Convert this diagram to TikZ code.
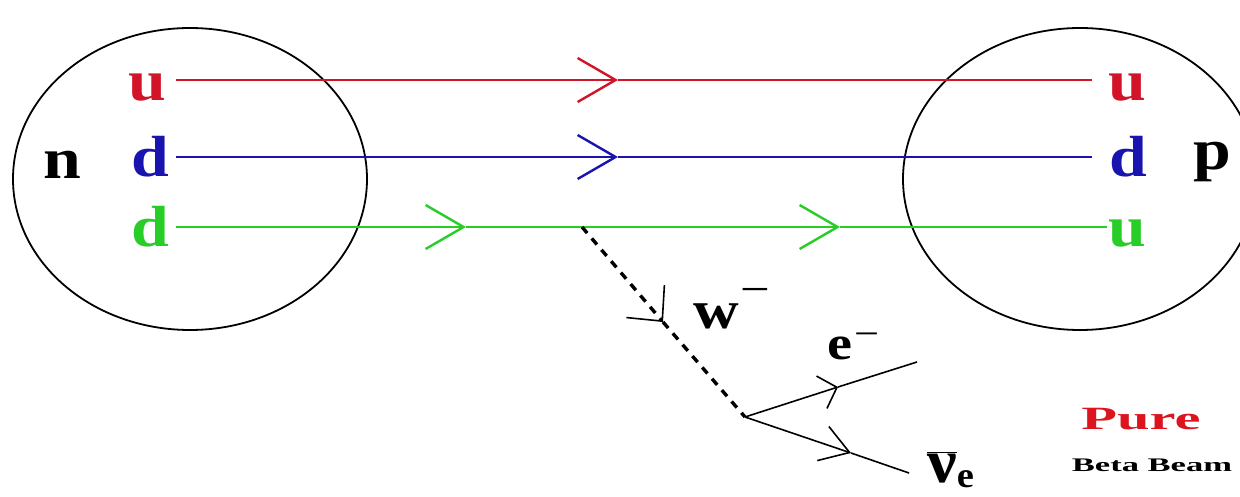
\documentclass[tikz,border=0pt]{standalone}
\usepackage{fontspec}
\setmainfont{Liberation Serif}
\usetikzlibrary{arrows.meta,shapes.geometric}
\definecolor{qred}{RGB}{210,20,40}
\definecolor{qblue}{RGB}{25,20,175}
\definecolor{qgreen}{RGB}{40,205,40}
\definecolor{pured}{RGB}{220,20,30}
\newcommand\hwide[2]{\scalebox{#1}[1]{#2}}
\newcommand\supminus[2]{\raisebox{#2}{\fontsize{#1}{#1}\selectfont\mdseries −}}
\tikzset{
  hadron/.style={draw=black, line width=1.8pt, ellipse, minimum width=354pt, minimum height=302pt, inner sep=0pt},
  quark/.style={inner sep=0pt, font=\fontsize{58}{60}\selectfont\bfseries},
  qline/.style={line width=2.2pt},
  qtip/.style={-{Straight Barb[length=38pt,width=44pt,line width=2.4pt]}},
  wline/.style={line width=3.4pt, dash pattern=on 8pt off 7pt},
  wtip/.style={-{Straight Barb[length=26pt,width=50pt,line width=1.6pt]}},
  lline/.style={line width=1.6pt},
  etip/.style={-{Straight Barb[length=16pt,width=34pt,line width=1.6pt]}},
  nutip/.style={-{Straight Barb[length=28pt,width=36pt,line width=1.6pt]}},
}
\begin{document}
\begin{tikzpicture}[x=1pt,y=-1pt]
\useasboundingbox (0,0) rectangle (1240,497);
\clip (0,0) rectangle (1240,497);

% hadrons
\node[hadron] (ncirc) at (190,179) {};
\node[hadron] (pcirc) at (1080,179) {};

% labels
\node[quark] (nlab) at (62,165) {\hwide{1.17}{n}};
\node[quark] (plab) at (1212,162) {\hwide{1.17}{p}};
\node[quark, text=qred] (uL) at (147,88) {\hwide{1.17}{u}};
\node[quark, text=qblue] (dL) at (150,157) {\hwide{1.17}{d}};
\node[quark, text=qgreen] (gL) at (150,227) {\hwide{1.17}{d}};
\node[quark, text=qred] (uR) at (1127,88) {\hwide{1.17}{u}};
\node[quark, text=qblue] (dR) at (1128,157) {\hwide{1.17}{d}};
\node[quark, text=qgreen] (gR) at (1127,234) {\hwide{1.17}{u}};

% quark line coordinates
\coordinate (r0) at (176,80);  \coordinate (rA) at (618,80);  \coordinate (r1) at (1092,80);
\coordinate (b0) at (176,157); \coordinate (bA) at (618,157); \coordinate (b1) at (1092,157);
\coordinate (g0) at (176,227); \coordinate (gA) at (466,227); \coordinate (gW) at (582,227);
\coordinate (gB) at (840,227); \coordinate (g1) at (1107,227);

\draw[qline, qred, qtip] (r0) -- (rA);
\draw[qline, qred] (rA) -- (r1);
\draw[qline, qblue, qtip] (b0) -- (bA);
\draw[qline, qblue] (bA) -- (b1);
\draw[qline, qgreen, qtip] (g0) -- (gA);
\draw[qline, qgreen] (gA) -- (gW);
\draw[qline, qgreen, qtip] (gW) -- (gB);
\draw[qline, qgreen] (gB) -- (g1);

% W boson
\coordinate (Wt) at (663,322);
\coordinate (vx) at (745,417);
\draw[wline, wtip] (gW) -- (Wt);
\draw[wline] (Wt) -- (vx);

% leptons
\coordinate (eA) at (838,387); \coordinate (e1) at (917,362);
\coordinate (nA) at (851,453); \coordinate (n1) at (909,473);
\draw[lline, etip] (vx) -- (eA);
\draw[lline] (eA) -- (e1);
\draw[lline, nutip] (vx) -- (nA);
\draw[lline] (nA) -- (n1);

\node[inner sep=0pt, anchor=base west, font=\fontsize{54}{56}\selectfont\bfseries] (wlab) at (693,328) {\hwide{1.17}{w\kern1pt\supminus{45}{24pt}}};
\node[inner sep=0pt, anchor=base west, font=\fontsize{48}{50}\selectfont\bfseries] (elab) at (827,359) {\hwide{1.17}{e\kern2pt\supminus{38}{12.5pt}}};
\node[inner sep=0pt, anchor=base west, font=\fontsize{62}{64}\selectfont\bfseries] (nulab) at (927,482) {\hwide{1.07}{$\overline{\hbox{\bfseries ν}}$\raisebox{-5pt}{\fontsize{36}{40}\selectfont e}}};

% caption
\node[inner sep=0pt, text=pured, font=\fontsize{32.5}{34}\selectfont\bfseries] (pure) at (1141,419) {\hwide{1.8}{Pure}};
\node[inner sep=0pt, font=\fontsize{19.2}{21}\selectfont\bfseries] (bb) at (1152,465) {\hwide{1.8}{Beta Beam}};
\end{tikzpicture}
\end{document}
